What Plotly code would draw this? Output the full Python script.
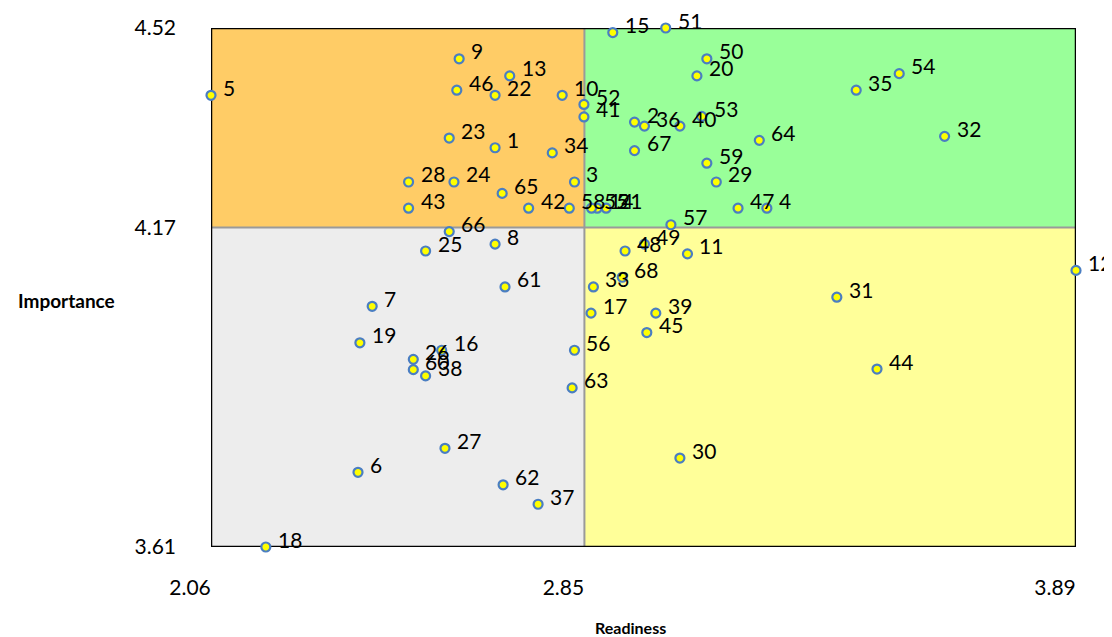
import plotly.graph_objects as go

ids = list(range(1, 69))
readiness = [2.661, 2.956, 2.829, 3.236, 2.060, 2.371, 2.401, 2.661, 2.585, 2.803,
             3.068, 3.890, 2.692, 2.877, 2.910, 2.548, 2.864, 2.176, 2.375, 3.088,
             2.896, 2.661, 2.564, 2.574, 2.514, 2.488, 2.555, 2.478, 3.129, 3.052,
             3.384, 3.612, 2.869, 2.782, 3.425, 2.977, 2.752, 2.514, 3.001, 3.052,
             2.849, 2.732, 2.478, 3.469, 2.982, 2.580, 3.175, 2.936, 2.977, 3.109,
             3.022, 2.849, 3.098, 3.516, 2.865, 2.829, 3.033, 2.818, 3.109, 2.488,
             2.682, 2.678, 2.824, 3.220, 2.676, 2.564, 2.956, 2.930]
importance = [4.310, 4.355, 4.250, 4.204, 4.402, 3.741, 4.032, 4.141, 4.466, 4.402,
              4.124, 4.095, 4.436, 4.204, 4.512, 3.955, 4.020, 3.610, 3.968, 4.436,
              4.204, 4.402, 4.327, 4.250, 4.129, 3.939, 3.783, 4.250, 4.250, 3.766,
              4.048, 4.330, 4.066, 4.301, 4.411, 4.348, 3.685, 3.910, 4.020, 4.348,
              4.364, 4.204, 4.204, 3.922, 3.986, 4.411, 4.204, 4.129, 4.141, 4.466,
              4.520, 4.386, 4.365, 4.440, 4.204, 3.955, 4.175, 4.204, 4.283, 3.921,
              4.066, 3.719, 3.889, 4.323, 4.230, 4.163, 4.305, 4.083]

x_ticks = [2.06, 2.85, 3.89]
y_ticks = [3.61, 4.17, 4.52]
x_mid = 2.85
y_mid = 4.17

FONT = "Lato, 'Liberation Sans', sans-serif"

fig = go.Figure()
fig.add_trace(go.Scatter(
    x=readiness, y=importance, mode="markers",
    marker=dict(size=9, color="#FFFF00", line=dict(color="#4A7EC2", width=2.2)),
    cliponaxis=False, hoverinfo="text", text=[str(i) for i in ids], showlegend=False,
))

x0, x1 = x_ticks[0], x_ticks[-1]
y0, y1 = y_ticks[0], y_ticks[-1]
quads = [
    (x0, x_mid, y_mid, y1, "#FFCC66"),
    (x_mid, x1, y_mid, y1, "#99FF99"),
    (x0, x_mid, y0, y_mid, "#EDEDED"),
    (x_mid, x1, y0, y_mid, "#FFFF99"),
]
shapes = []
for a, b, c, d, col in quads:
    shapes.append(dict(type="rect", xref="x", yref="y", x0=a, x1=b, y0=c, y1=d,
                       fillcolor=col, line=dict(width=0), layer="below"))
shapes.append(dict(type="line", xref="x", yref="y", x0=x_mid, x1=x_mid, y0=y0, y1=y1,
                   line=dict(color="#9A9A9A", width=2), layer="below"))
shapes.append(dict(type="line", xref="x", yref="y", x0=x0, x1=x1, y0=y_mid, y1=y_mid,
                   line=dict(color="#9A9A9A", width=2), layer="below"))
shapes.append(dict(type="rect", xref="x", yref="y", x0=x0, x1=x1, y0=y0, y1=y1,
                   line=dict(color="black", width=2.5), fillcolor="rgba(0,0,0,0)", layer="below"))

annotations = []
for i, xv, yv in zip(ids, readiness, importance):
    annotations.append(dict(x=xv, y=yv, xref="x", yref="y", text=str(i), showarrow=False,
                            xanchor="left", yanchor="middle", xshift=10, yshift=8,
                            font=dict(family=FONT, size=21, color="black")))
annotations.append(dict(x=-0.1665, y=0.4756, xref="paper", yref="paper", text="<b>Importance</b>",
                        showarrow=False, xanchor="center", yanchor="middle",
                        font=dict(family=FONT, size=19, color="black")))
annotations.append(dict(x=0.4855, y=-0.156, xref="paper", yref="paper", text="<b>Readiness</b>",
                        showarrow=False, xanchor="center", yanchor="middle",
                        font=dict(family=FONT, size=16, color="black")))

# the page body has an 8px margin, so the figure is sized and placed to compensate
fig.update_layout(
    width=1104, height=629,
    margin=dict(l=203, r=36, t=20, b=90, autoexpand=False),
    paper_bgcolor="white", plot_bgcolor="white",
    shapes=shapes, annotations=annotations,
    font=dict(family=FONT, size=21, color="black"),
)
fig.update_xaxes(range=[x0, x1], tickvals=x_ticks, ticktext=[f"{v:.2f}" for v in x_ticks],
                 showgrid=False, zeroline=False, showline=False, ticks="",
                 ticklabelstandoff=26, ticklabelshift=-21,
                 tickfont=dict(family=FONT, size=21, color="black"))
fig.update_yaxes(range=[y0, y1], tickvals=y_ticks, ticktext=[f"{v:.2f}" for v in y_ticks],
                 showgrid=False, zeroline=False, showline=False, ticks="",
                 ticklabelstandoff=34,
                 tickfont=dict(family=FONT, size=21, color="black"))

fig.write_html("out.html")
